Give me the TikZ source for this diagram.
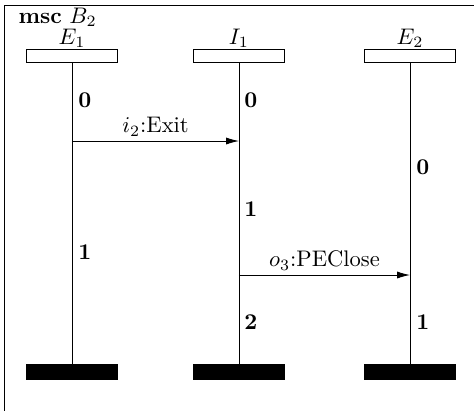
\documentclass[tikz,border=0pt]{standalone}
\usepackage{amsmath}
\usepackage{tikz}
\usetikzlibrary{arrows.meta, positioning}
\tikzset{%
  head/.style={rectangle, draw, minimum width=1.42cm, minimum height=0.2cm, inner sep=0pt},
  tail/.style={rectangle, draw, fill=black, minimum width=1.42cm, minimum height=0.23cm, inner sep=0pt},
  life/.style={draw, line width=0.4pt},
  msg/.style={draw, -{Latex[length=2mm, width=1.1mm]}},
  cond/.style={font=\bfseries, anchor=west, inner sep=0pt}}

\begin{document}
\begin{tikzpicture}[x=0.0156cm, y=-0.0156cm]
    \useasboundingbox (0,0) rectangle (474,410);
    \clip (0,0) rectangle (474,410);
    % Frame of the chart
    \draw (4,5) rectangle (490,430);
    \node (title) [anchor=west, inner sep=0.5pt] at (17,17) {\textbf{msc} $B_2$};
    % Instance heads
    \node (e1head) [head, label={[inner sep=0.5pt]above:{$E_1$}}] at (72,56) {};
    \node (i1head) [head, label={[inner sep=0.5pt]above:{$I_1$}}] at (239,56) {};
    \node (e2head) [head, label={[inner sep=0.5pt]above:{$E_2$}}] at (410,56) {};
    % Instance ends
    \node (e1end) [tail] at (72,372) {};
    \node (i1end) [tail] at (239,372) {};
    \node (e2end) [tail] at (410,372) {};
    % Lifelines
    \draw[life] (e1head) -- (e1end);
    \draw[life] (i1head) -- (i1end);
    \draw[life] (e2head) -- (e2end);
    % Messages
    \coordinate (exitfrom) at (72,141);
    \coordinate (exitto) at (239,141);
    \coordinate (closefrom) at (239,275);
    \coordinate (closeto) at (410,275);
    \draw[msg] (exitfrom) -- node[above, inner sep=2pt] {$i_2$:Exit} (exitto);
    \draw[msg] (closefrom) -- node[above, inner sep=2pt] {$o_3$:PEClose} (closeto);
    % Conditions along the lifelines
    \node (e1c0) [cond] at (78,100) {0};
    \node (e1c1) [cond] at (78,252) {1};
    \node (i1c0) [cond] at (244,100) {0};
    \node (i1c1) [cond] at (244,209) {1};
    \node (i1c2) [cond] at (244,322) {2};
    \node (e2c0) [cond] at (416,167) {0};
    \node (e2c1) [cond] at (416,322) {1};
  \end{tikzpicture}
\end{document}
